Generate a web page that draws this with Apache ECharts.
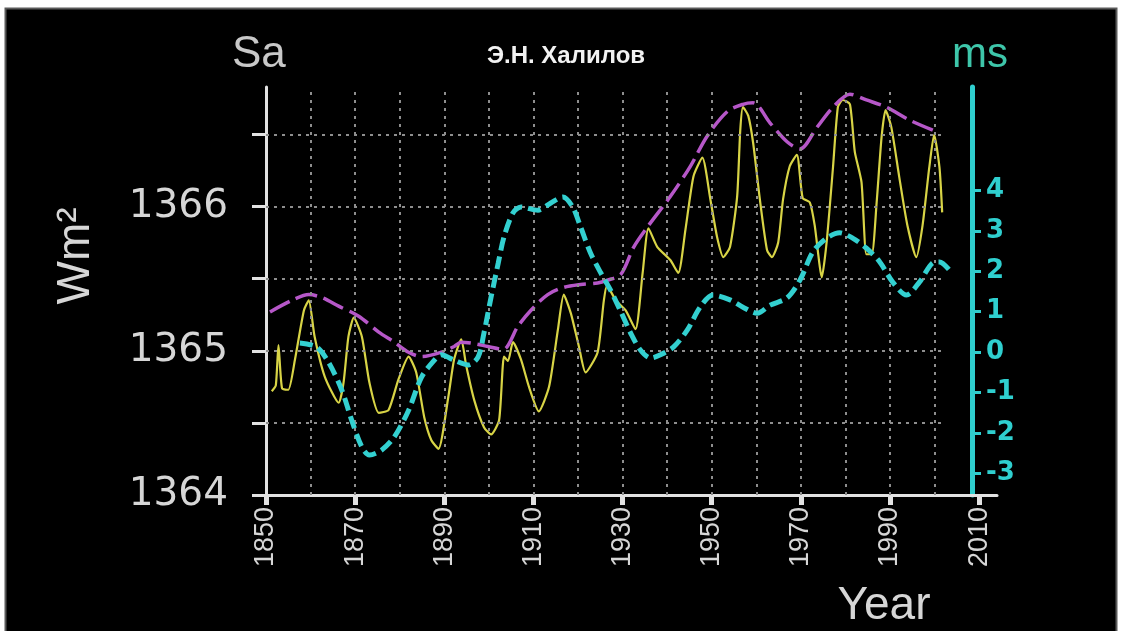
<!DOCTYPE html>
<html><head><meta charset="utf-8">
<script src="https://cdn.jsdelivr.net/npm/echarts@6/dist/echarts.min.js"></script>
<style>html,body{margin:0;padding:0;background:#fff;} #c{width:1124px;height:631px;}</style>
</head><body><div id="c"></div>
<script>
// Solar irradiance Sa (W/m2), yellow solid
const satYears = [1851.3,1852.2,1852.8,1853.6,1855.0,1856.5,1858.5,1859.6,1860.9,1863.2,1866.3,1867.4,1868.5,1869.7,1871.5,1873.2,1875.3,1877.5,1879.7,1882.0,1883.7,1885.5,1887.1,1888.7,1890.9,1892.2,1893.8,1894.9,1896.7,1898.9,1900.5,1902.3,1903.4,1904.3,1905.4,1907.2,1909.0,1911.2,1913.5,1915.5,1916.8,1918.4,1920.2,1921.7,1924.4,1925.8,1926.5,1928.5,1930.7,1932.9,1934.5,1935.8,1937.8,1940.7,1942.5,1944.1,1945.9,1947.9,1949.7,1951.2,1952.6,1954.1,1955.7,1956.4,1957.0,1958.2,1959.3,1960.8,1962.4,1963.5,1964.9,1966.0,1967.5,1969.1,1970.4,1972.0,1973.1,1974.7,1975.8,1977.2,1978.3,1979.4,1981.0,1982.1,1983.6,1984.7,1985.9,1987.0,1988.1,1989.0,1990.3,1992.1,1993.9,1995.9,1997.3,1998.8,1999.9,2001.1,2001.7];
const satValues = [1364.72,1364.76,1365.04,1364.74,1364.73,1364.94,1365.28,1365.35,1365.10,1364.82,1364.64,1364.78,1365.10,1365.23,1365.10,1364.78,1364.57,1364.59,1364.80,1364.96,1364.85,1364.54,1364.38,1364.32,1364.68,1364.94,1365.08,1364.90,1364.66,1364.47,1364.42,1364.52,1364.96,1364.93,1365.06,1364.94,1364.75,1364.58,1364.75,1365.15,1365.39,1365.26,1365.03,1364.85,1364.99,1365.35,1365.45,1365.35,1365.28,1365.15,1365.54,1365.85,1365.72,1365.63,1365.54,1365.84,1366.21,1366.34,1366.05,1365.79,1365.65,1365.72,1366.07,1366.53,1366.69,1366.63,1366.44,1366.05,1365.70,1365.65,1365.75,1366.05,1366.28,1366.36,1366.06,1366.03,1365.87,1365.51,1365.76,1366.27,1366.69,1366.74,1366.71,1366.38,1366.17,1365.67,1365.67,1366.03,1366.48,1366.67,1366.55,1366.20,1365.87,1365.65,1365.87,1366.27,1366.50,1366.27,1365.96];
// Envelope of Sa, magenta dashed
const envYears = [1850.9,1855.8,1859.6,1862.5,1866.3,1870.8,1875.3,1878.8,1882.0,1884.9,1889.3,1892.2,1893.8,1896.7,1899.8,1903.2,1906.5,1909.4,1913.2,1916.8,1920.6,1924.4,1926.6,1929.6,1932.5,1935.6,1940.7,1945.2,1949.0,1953.5,1957.0,1959.3,1963.1,1966.9,1969.8,1973.6,1977.2,1981.0,1984.7,1989.2,1994.4,2000.4];
const envValues = [1365.27,1365.35,1365.39,1365.37,1365.31,1365.24,1365.13,1365.06,1364.99,1364.96,1364.99,1365.03,1365.06,1365.05,1365.03,1365.01,1365.17,1365.28,1365.39,1365.44,1365.46,1365.47,1365.49,1365.53,1365.72,1365.86,1366.07,1366.28,1366.49,1366.66,1366.71,1366.72,1366.58,1366.45,1366.40,1366.55,1366.69,1366.78,1366.74,1366.69,1366.60,1366.52];
// Length of day variation (ms), cyan dashed
const lodYears = [1857.6,1861.4,1864.1,1867.0,1869.2,1871.5,1873.2,1875.9,1878.8,1882.0,1884.9,1887.8,1889.3,1892.2,1895.4,1897.6,1898.9,1900.5,1902.1,1903.4,1905.4,1907.2,1911.0,1913.9,1916.6,1918.8,1920.6,1922.8,1925.1,1927.3,1929.6,1931.8,1934.0,1936.3,1938.5,1941.4,1944.5,1947.4,1950.3,1954.1,1957.0,1960.2,1963.1,1966.9,1969.8,1972.7,1975.8,1978.7,1981.6,1984.7,1987.7,1990.6,1993.7,1996.6,1999.5,2001.1,2003.3];
const lodValues = [0.22,0.12,-0.27,-0.94,-1.68,-2.35,-2.55,-2.43,-2.10,-1.44,-0.62,-0.20,-0.07,-0.20,-0.32,-0.12,0.47,1.36,2.20,2.85,3.44,3.59,3.51,3.69,3.84,3.59,3.09,2.45,1.96,1.53,1.00,0.47,0.05,-0.15,-0.07,0.12,0.54,1.11,1.41,1.29,1.11,0.96,1.16,1.34,1.78,2.48,2.82,2.95,2.82,2.57,2.23,1.73,1.41,1.73,2.20,2.23,2.03];

const xTickYears = [1850,1870,1890,1910,1930,1950,1970,1990,2010];
const gridYears = [1860,1870,1880,1890,1900,1910,1920,1930,1940,1950,1960,1970,1980,1990,2000];
const leftTicks = [1364,1364.5,1365,1365.5,1366,1366.5];
const leftLabels = [1364,1365,1366];
const gridLevels = [1364.5,1365,1365.5,1366,1366.5];
const rightTicks = [-3,-2,-1,0,1,2,3,4];

const zip = (xs, ys) => xs.map((x, i) => [x, ys[i]]);
const plain = v => String(v);
const GRID_X_END = 2002, GRID_Y_TOP = 1366.8;

const chart = echarts.init(document.getElementById('c'), null, {renderer: 'canvas'});
const axisGray = '#e2e2e2';
const teal = '#2fcfcf';

const gridMarks = gridLevels.map(v => [{coord: [1850, v]}, {coord: [GRID_X_END, v]}])
  .concat(gridYears.map(y => [{coord: [y, 1364]}, {coord: [y, GRID_Y_TOP]}]));

chart.setOption({
  animation: false,
  backgroundColor: '#000',
  grid: {left: 266, right: 127, top: 87, bottom: 136, containLabel: false},
  xAxis: {
    type: 'value', min: 1850, max: 2014,
    axisLine: {show: true, onZero: false, lineStyle: {color: axisGray, width: 3}},
    axisTick: {show: true, customValues: xTickYears, length: 10, lineStyle: {color: axisGray, width: 5}},
    axisLabel: {customValues: xTickYears, formatter: plain, rotate: 90, margin: 12, color: '#d6d6d6',
      fontFamily: 'Liberation Sans', fontSize: 27},
    splitLine: {show: false}
  },
  yAxis: [{
    type: 'value', min: 1364, max: 1366.83, position: 'left',
    axisLine: {show: true, onZero: false, lineStyle: {color: axisGray, width: 3}},
    axisTick: {show: true, customValues: leftTicks, length: 14, lineStyle: {color: axisGray, width: 3}},
    axisLabel: {customValues: leftLabels, formatter: plain, margin: 38, color: '#d6d6d6',
      fontFamily: 'DejaVu Sans', fontSize: 39},
    splitLine: {show: false}
  }, {
    type: 'value', min: -3.54, max: 6.56, position: 'right', offset: -25,
    axisLine: {show: true, onZero: false, lineStyle: {color: teal, width: 5}},
    axisTick: {show: true, customValues: rightTicks, inside: false, length: 9, lineStyle: {color: teal, width: 3}},
    axisLabel: {customValues: rightTicks, formatter: plain, margin: 14, color: teal,
      fontFamily: 'DejaVu Sans', fontWeight: 'bold', fontSize: 26},
    splitLine: {show: false}
  }],
  series: [{
    type: 'line', data: [], silent: true, z: 1,
    markLine: {
      silent: true, symbol: ['none', 'none'], animation: false,
      label: {show: false},
      lineStyle: {color: '#8e8e8e', type: [3, 5], width: 2},
      emphasis: {disabled: true},
      data: gridMarks
    }
  }, {
    name: 'Sa', type: 'line', yAxisIndex: 0, showSymbol: false, smooth: 0.2, z: 3,
    data: zip(satYears, satValues),
    lineStyle: {color: '#d8d446', width: 2.2}
  }, {
    name: 'envelope', type: 'line', yAxisIndex: 0, showSymbol: false, smooth: 0.3, z: 4,
    data: zip(envYears, envValues),
    lineStyle: {color: '#b657c8', width: 3.5, type: [22, 7]}
  }, {
    name: 'ms', type: 'line', yAxisIndex: 1, showSymbol: false, smooth: 0.3, z: 5,
    data: zip(lodYears, lodValues),
    lineStyle: {color: '#33d0d0', width: 5, type: [13, 6], cap: 'butt'}
  }],
  graphic: [
    {type: 'text', x: 232, y: 55, silent: true,
      style: {text: 'Sa', fill: '#c8c8c8', font: '44px "Liberation Sans"', textVerticalAlign: 'middle'}},
    {type: 'text', x: 566, y: 56, silent: true,
      style: {text: 'Э.Н. Халилов', fill: '#f2f2f2', font: 'bold 24px "Liberation Sans"', textAlign: 'center', textVerticalAlign: 'middle'}},
    {type: 'text', x: 980, y: 55, silent: true,
      style: {text: 'ms', fill: '#3ec6aa', font: '42px "Liberation Sans"', textAlign: 'center', textVerticalAlign: 'middle'}},
    {type: 'text', x: 884, y: 606, silent: true,
      style: {text: 'Year', fill: '#d6d6d6', font: '46px "Liberation Sans"', textAlign: 'center', textVerticalAlign: 'middle'}},
    {type: 'text', x: 76, y: 256, rotation: Math.PI / 2, silent: true,
      style: {text: 'Wm²', fill: '#d6d6d6', font: '46px "Liberation Sans"', textAlign: 'center', textVerticalAlign: 'middle'}},
    {type: 'rect', silent: true, z: 100, shape: {x: 0, y: 0, width: 1124, height: 8}, style: {fill: '#fff'}},
    {type: 'rect', silent: true, z: 100, shape: {x: 0, y: 0, width: 5, height: 631}, style: {fill: '#fff'}},
    {type: 'rect', silent: true, z: 100, shape: {x: 1117, y: 0, width: 7, height: 631}, style: {fill: '#fff'}},
    {type: 'rect', silent: true, z: 100, shape: {x: 5.5, y: 8.5, width: 1111, height: 640}, style: {fill: null, stroke: '#5a5a5a', lineWidth: 2}}
  ]
});
</script>
</body></html>
